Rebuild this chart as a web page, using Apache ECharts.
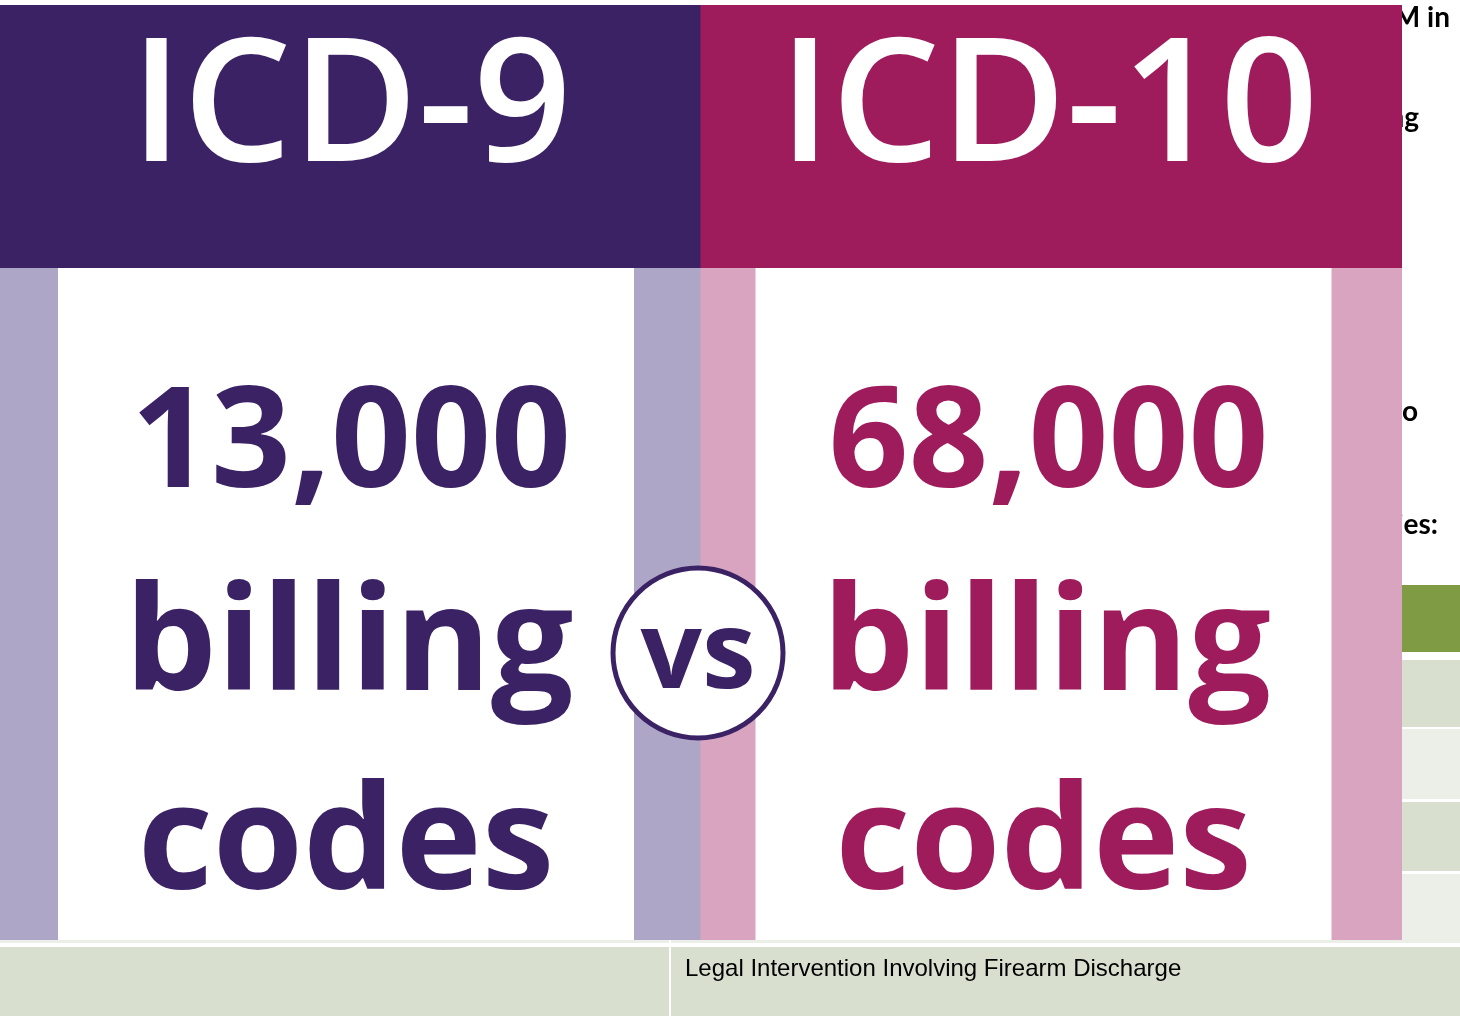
<!DOCTYPE html>
<html>
<head>
<meta charset="utf-8">
<title>ICD-9 vs ICD-10</title>
<script src="https://cdn.jsdelivr.net/npm/echarts@6/dist/echarts.min.js"></script>
<style>
  html, body { margin: 0; padding: 0; background: #fff; }
  #chart { width: 1460px; height: 1016px; }
</style>
</head>
<body>
<div id="chart"></div>
<script>
// data
const editions = ['ICD-9', 'ICD-10'];
const billingCodes = [13000, 68000];
const unitWords = ['billing', 'codes'];
const darkColors = ['#3b2265', '#9f1c5c'];
const lightColors = ['#aea6c6', '#d9a4c0'];
const leftStripe = [58, 55];

// text of the document behind the picture
const paragraphLines = [
  'International Classification of Diseases, 10th Revision, Clinical Modification, replaced ICD-9-CM in',
  'the United States healthcare system, expanding the number of diagnosis codes available for coding',
  'firearm injuries and giving researchers a more detailed way to',
  'classify firearm injury intent and mechanism using the following categories:'
];
const tableRowText = ['', '', '', '', 'Legal Intervention Involving Firearm Discharge'];

const chart = echarts.init(document.getElementById('chart'));

const HEADER_H = 263;
const WHITE_W = 576;

function renderPanel(params, api) {
  const i = api.value(0);
  const cs = params.coordSys;
  const bandW = api.size([1, 0])[0];
  const cx = api.coord([i, 0])[0];
  const x0 = cx - bandW / 2;
  const top = cs.y;
  const bottom = cs.y + cs.height;
  const ls = leftStripe[i];
  const whiteX = x0 + ls;
  const midX = whiteX + WHITE_W / 2;
  const dark = darkColors[i];
  const count = api.value(1).toLocaleString('en-US');

  return {
    type: 'group',
    children: [
      { type: 'rect', shape: { x: x0, y: top, width: bandW + 1, height: HEADER_H }, style: { fill: dark } },
      { type: 'rect', shape: { x: x0, y: top + HEADER_H, width: bandW + 1, height: bottom - top - HEADER_H }, style: { fill: lightColors[i] } },
      { type: 'rect', shape: { x: whiteX, y: top + HEADER_H, width: WHITE_W, height: bottom - top - HEADER_H }, style: { fill: '#fff' } },
      { type: 'text', style: { x: midX + 5, y: top + 107, text: editions[i], fill: '#fff', font: '600 172px "Open Sans"', align: 'center', verticalAlign: 'middle' } },
      { type: 'text', style: { x: midX + 5, y: top + 442, text: count, fill: dark, font: 'bold 140px "Open Sans"', align: 'center', verticalAlign: 'middle' } },
      { type: 'text', style: { x: midX + 3, y: top + 643, text: unitWords[0], fill: dark, font: 'bold 146px "Open Sans"', align: 'center', verticalAlign: 'middle' } },
      { type: 'text', style: { x: midX, y: top + 842, text: unitWords[1], fill: dark, font: 'bold 146px "Open Sans"', align: 'center', verticalAlign: 'middle' } }
    ]
  };
}

// document background (behind the picture)
const docGraphics = [];
const tableRows = [[660, 727], [729, 799], [802, 871], [874, 943], [947, 1016]];
docGraphics.push({ type: 'rect', z: 0, shape: { x: 0, y: 585, width: 1460, height: 67 }, style: { fill: '#7f9c44' } });
tableRows.forEach((r, k) => {
  docGraphics.push({ type: 'rect', z: 0, shape: { x: 0, y: r[0], width: 1460, height: r[1] - r[0] }, style: { fill: k % 2 === 0 ? '#d8dfcf' : '#eceee8' } });
  docGraphics.push({ type: 'rect', z: 0, shape: { x: 669, y: r[0], width: 2, height: r[1] - r[0] }, style: { fill: '#fff' } });
  if (tableRowText[k]) {
    docGraphics.push({ type: 'text', z: 0, style: { x: 685, y: r[0] + 22, text: tableRowText[k], fill: '#000', font: '24px "Liberation Sans", Arial', verticalAlign: 'middle' } });
  }
});
const lineY = [18, 118, 412, 525];
const lineEnd = [1450, 1419, 1418, 1438];
paragraphLines.forEach((t, k) => {
  docGraphics.push({ type: 'text', z: 0, style: { x: lineEnd[k], y: lineY[k], text: t, fill: '#000', font: 'bold 28px Lato', align: 'right', verticalAlign: 'middle' } });
});

const option = {
  animation: false,
  backgroundColor: '#fff',
  grid: { left: 0, right: 59, top: 5, bottom: 76 },
  xAxis: { type: 'category', data: editions, show: false, boundaryGap: true },
  yAxis: { type: 'value', min: 0, max: 80000, show: false },
  graphic: docGraphics.concat([
    { type: 'circle', z: 100, shape: { cx: 698, cy: 653, r: 85 }, style: { fill: '#fff', stroke: '#3b2265', lineWidth: 5 } },
    { type: 'text', z: 101, style: { x: 698, y: 657, text: 'vs', fill: '#3b2265', font: 'bold 108px "Open Sans"', align: 'center', verticalAlign: 'middle' } }
  ]),
  series: [{
    type: 'custom',
    z: 10,
    renderItem: renderPanel,
    data: editions.map((e, i) => [i, billingCodes[i]])
  }]
};

chart.setOption(option);
</script>
</body>
</html>
